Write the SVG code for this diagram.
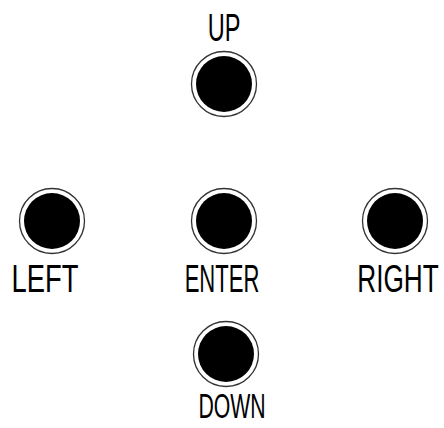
<svg xmlns="http://www.w3.org/2000/svg" width="444" height="428" viewBox="0 0 444 428">
<style>
.ring{fill:#fff;stroke:#333;stroke-width:1.3}
.dot{fill:#000}
.lbl{font-family:"Liberation Sans",Arial,sans-serif;font-size:38px;fill:#000;text-anchor:middle}
</style>
<rect width="444" height="428" fill="#fff"/>
<g id="up">
<circle class="ring" cx="224" cy="84" r="32.5"/><circle class="dot" cx="224" cy="84" r="28"/>
<text class="lbl" transform="translate(224,41) scale(0.62,1)">UP</text>
</g>
<g id="left">
<circle class="ring" cx="52" cy="221" r="32.5"/><circle class="dot" cx="52" cy="221" r="28"/>
<text class="lbl" transform="translate(45,292) scale(0.72,1)">LEFT</text>
</g>
<g id="enter">
<circle class="ring" cx="224" cy="221" r="32.5"/><circle class="dot" cx="224" cy="221" r="28"/>
<text class="lbl" transform="translate(222,292) scale(0.58,1)">ENTER</text>
</g>
<g id="right">
<circle class="ring" cx="395" cy="221" r="32.5"/><circle class="dot" cx="395" cy="221" r="28"/>
<text class="lbl" transform="translate(398,292) scale(0.69,1)">RIGHT</text>
</g>
<g id="down">
<circle class="ring" cx="226" cy="354" r="32.5"/><circle class="dot" cx="226" cy="354" r="28"/>
<text class="lbl" style="font-size:36px" transform="translate(232,418) scale(0.59,1)">DOWN</text>
</g>
<g id="connectors"/>
</svg>
